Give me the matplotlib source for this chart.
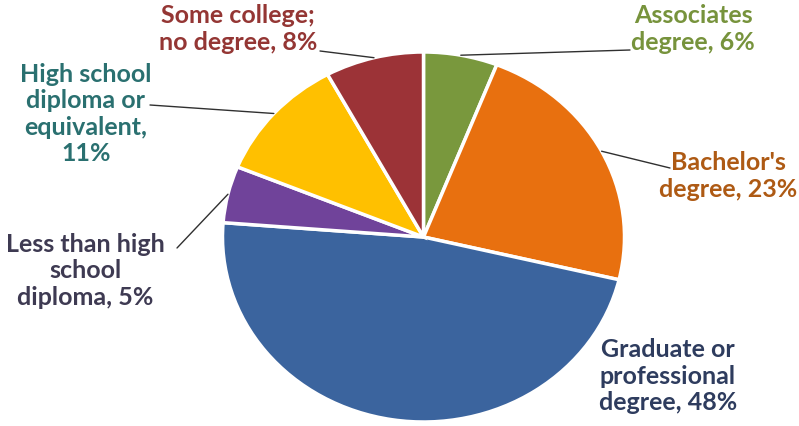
import matplotlib.pyplot as plt
import numpy as np

# data
labels = ["Associates\ndegree, 6%", "Bachelor's\ndegree, 23%", "Graduate or\nprofessional\ndegree, 48%",
          "Less than high\nschool\ndiploma, 5%", "High school\ndiploma or\nequivalent,\n11%",
          "Some college;\nno degree, 8%"]
values = [6, 23, 48, 5, 11, 8]
slice_colors = ["#79983D", "#E8700F", "#3B649E", "#70439A", "#FFC000", "#9C3337"]
text_colors = ["#77933C", "#AE5A14", "#2E3C5E", "#3E3A52", "#2A7070", "#943634"]

# text block centres in pixels (x, y from top) and leader end points
text_pos = [(693, 29), (728, 176), (668, 376), (85, 271), (86, 114), (238, 29)]
leader_end = [(630, 50), (670, 168), None, (177, 248), (150, 105), (320, 51)]

W, H = 799, 426
cx, cy, rx, ry = 423.5, 237, 201, 185

plt.rcParams['font.family'] = ['Lato', 'DejaVu Sans']
fig = plt.figure(figsize=(W / 100, H / 100), dpi=100)
ax = fig.add_axes([0, 0, 1, 1])

wedges, _ = ax.pie(values, colors=slice_colors, startangle=90, counterclock=False,
                   wedgeprops=dict(edgecolor='white', linewidth=2.5))
ax.set_aspect('auto')
ax.set_xlim(-cx / rx, (W - cx) / rx)
ax.set_ylim(-(H - cy) / ry, cy / ry)
ax.axis('off')

for w, lab, col, tp, le in zip(wedges, labels, text_colors, text_pos, leader_end):
    fig.text(tp[0] / W, 1 - tp[1] / H, lab, color=col, fontsize=18, fontweight='bold',
             ha='center', va='center', multialignment='center', linespacing=1.18)
    if le is not None:
        ang = np.deg2rad((w.theta1 + w.theta2) / 2)
        ax.annotate('', xy=(np.cos(ang), np.sin(ang)), xycoords='data',
                    xytext=(le[0] / W, 1 - le[1] / H), textcoords='figure fraction',
                    arrowprops=dict(arrowstyle='-', color='#303030', lw=1, shrinkA=0, shrinkB=0))

fig.savefig('out.png', dpi=100)
